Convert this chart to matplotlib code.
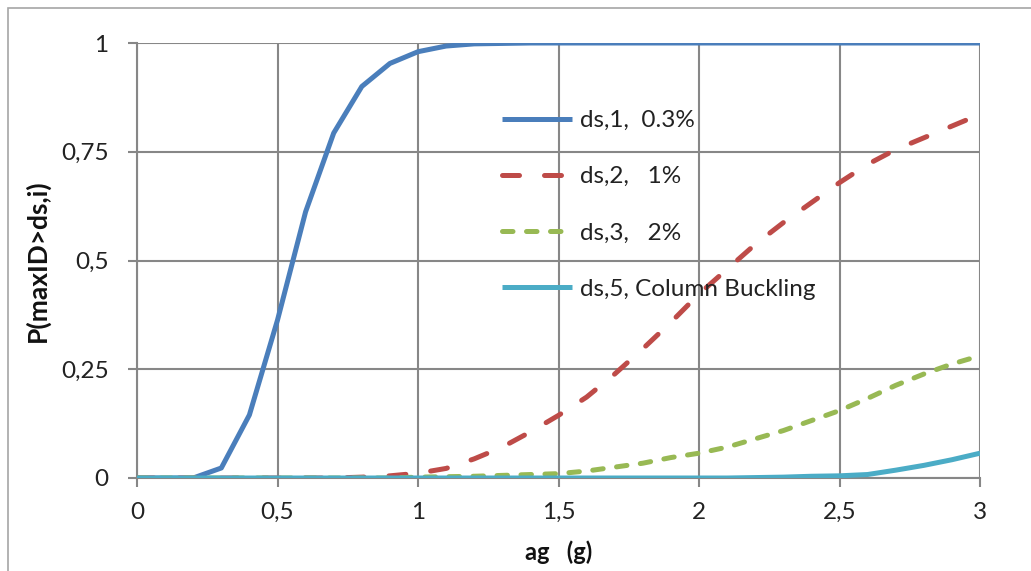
import matplotlib
matplotlib.use("Agg")
import matplotlib.pyplot as plt
from matplotlib.patches import Rectangle

ag = [0.0, 0.1, 0.2, 0.3, 0.4, 0.5, 0.6, 0.7, 0.8, 0.9, 1.0, 1.1, 1.2, 1.3, 1.4, 1.5,
      1.6, 1.7, 1.8, 1.9, 2.0, 2.1, 2.2, 2.3, 2.4, 2.5, 2.6, 2.7, 2.8, 2.9, 3.0]

ds1 = [0.0, 0.0, 0.0, 0.023, 0.145, 0.363, 0.612, 0.793, 0.90, 0.953, 0.980, 0.993,
       0.998, 0.999, 1.0, 1.0, 1.0, 1.0, 1.0, 1.0, 1.0, 1.0, 1.0, 1.0, 1.0, 1.0,
       1.0, 1.0, 1.0, 1.0, 1.0]
ds2 = [0.0, 0.0, 0.0, 0.0, 0.0, 0.0, 0.0, 0.0, 0.002, 0.005, 0.011, 0.022, 0.044,
       0.071, 0.106, 0.144, 0.186, 0.239, 0.297, 0.358, 0.423, 0.480, 0.537, 0.587,
       0.633, 0.679, 0.721, 0.755, 0.782, 0.809, 0.836]
ds3 = [0.0, 0.0, 0.0, 0.0, 0.0, 0.0, 0.0, 0.0, 0.0, 0.0, 0.002, 0.003, 0.004, 0.006,
       0.008, 0.010, 0.016, 0.025, 0.034, 0.047, 0.057, 0.071, 0.090, 0.109, 0.132,
       0.155, 0.183, 0.213, 0.239, 0.262, 0.281]
ds5 = [0.0, 0.0, 0.0, 0.0, 0.0, 0.0, 0.0, 0.0, 0.0, 0.0, 0.0, 0.0, 0.0, 0.0, 0.0, 0.0,
       0.0, 0.0, 0.0, 0.0, 0.0, 0.0, 0.001, 0.002, 0.004, 0.005, 0.008, 0.018, 0.029,
       0.042, 0.057]

labels = ["ds,1,  0.3%", "ds,2,   1%", "ds,3,   2%", "ds,5, Column Buckling"]
xticks = [0, 0.5, 1, 1.5, 2, 2.5, 3]
xticklabels = ["0", "0,5", "1", "1,5", "2", "2,5", "3"]
yticks = [0, 0.25, 0.5, 0.75, 1]
yticklabels = ["0", "0,25", "0,5", "0,75", "1"]

plt.rcParams['font.family'] = ['Lato', 'DejaVu Sans']

fig = plt.figure(figsize=(10.31, 5.71), dpi=100)
ax = fig.add_axes([137/1031, 1 - 478/571, (980-137)/1031, (478-43)/571])

grid_c = "#878787"
lw = 3.6
ax.plot(ag, ds1, color="#4a7ebb", lw=lw, label=labels[0], solid_capstyle="butt",
        solid_joinstyle="round", zorder=3)
ax.plot(ag, ds2, color="#be4b48", lw=lw, label=labels[1], linestyle=(0, (3.4, 5.0)),
        dash_capstyle="round", zorder=3)
ax.plot(ag, ds3, color="#98b954", lw=lw, label=labels[2], linestyle=(0, (2.1, 2.7)),
        dash_capstyle="round", zorder=3)
ax.plot(ag, ds5, color="#4bacc6", lw=lw, label=labels[3], solid_capstyle="butt",
        solid_joinstyle="round", zorder=4)

ax.set_xlim(0, 3)
ax.set_ylim(0, 1)
ax.set_xticks(xticks)
ax.set_xticklabels(xticklabels)
ax.set_yticks(yticks)
ax.set_yticklabels(yticklabels)
ax.tick_params(axis='both', labelsize=17.5, colors="#222222", length=6.5, width=1.5,
               color=grid_c)
ax.tick_params(axis='y', pad=14)
ax.tick_params(axis='x', pad=11)
ax.grid(True, color=grid_c, lw=1.5)
ax.set_axisbelow(True)
for s in ["top", "right"]:
    ax.spines[s].set_visible(False)
for s in ["left", "bottom"]:
    ax.spines[s].set_color(grid_c)
    ax.spines[s].set_linewidth(1.5)

ax.set_xlabel("ag   (g)", fontsize=17, fontweight="bold", labelpad=12, color="#111111")
ax.set_ylabel("P(maxID>ds,i)", fontsize=19, fontweight="bold", labelpad=8, color="#111111")

leg = ax.legend(loc="upper left", bbox_to_anchor=((502-137)/843, (478-110)/435),
                frameon=False, fontsize=17.5, handlelength=2.9, handletextpad=0.3,
                labelspacing=1.45, borderpad=0, borderaxespad=0)
for t in leg.get_texts():
    t.set_color("#222222")

fig.patches.append(Rectangle((8/1031, -0.1), 2, 1.1 - 8/571, transform=fig.transFigure,
                             fill=False, edgecolor="#a6a6a6", lw=1.2))

fig.savefig("out.png", dpi=100)
